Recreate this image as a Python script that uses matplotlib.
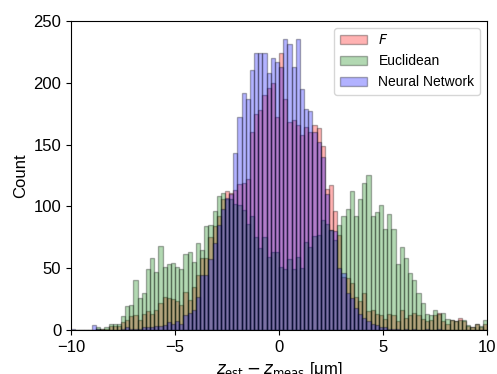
import numpy as np
import matplotlib.pyplot as plt

plt.rcParams['font.family'] = ['Liberation Sans', 'DejaVu Sans']

# 100 bins of width 0.2 between -10 and 10
bin_edges = np.linspace(-10, 10, 101)

f_counts = [0, 0, 0, 0, 0, 0, 1, 1, 1, 3,
            3, 3, 6, 8, 11, 12, 8, 13, 15, 13,
            16, 22, 27, 26, 25, 23, 20, 31, 24, 35,
            44, 58, 58, 75, 84, 92, 106, 112, 111, 113,
            118, 119, 122, 160, 175, 178, 190, 196, 200, 172,
            224, 187, 168, 170, 166, 158, 164, 160, 166, 163,
            149, 114, 117, 96, 77, 43, 42, 38, 27, 23,
            30, 15, 16, 13, 12, 9, 13, 12, 7, 16,
            10, 12, 14, 12, 9, 7, 8, 12, 14, 7,
            5, 8, 7, 10, 7, 3, 2, 5, 2, 5]

euclid_counts = [0, 0, 0, 0, 0, 0, 2, 1, 2, 5,
                 5, 5, 11, 19, 20, 40, 26, 30, 49, 58,
                 47, 68, 51, 53, 54, 51, 49, 61, 63, 55,
                 70, 65, 84, 85, 96, 108, 111, 106, 106, 102,
                 101, 97, 86, 92, 75, 66, 75, 59, 63, 63,
                 51, 49, 57, 49, 59, 50, 71, 67, 76, 77,
                 89, 86, 81, 73, 85, 92, 98, 112, 92, 106,
                 119, 125, 92, 95, 101, 82, 94, 82, 53, 67,
                 58, 46, 40, 30, 22, 13, 12, 16, 13, 14,
                 9, 8, 7, 8, 8, 4, 2, 5, 3, 8]

nn_counts = [1, 0, 0, 0, 0, 4, 1, 0, 0, 0,
             0, 0, 1, 2, 1, 1, 1, 2, 2, 2,
             3, 3, 4, 6, 5, 7, 5, 12, 14, 16,
             27, 44, 44, 57, 70, 85, 98, 107, 110, 143,
             172, 192, 187, 210, 224, 224, 224, 208, 220, 217,
             213, 235, 231, 213, 235, 195, 179, 177, 160, 152,
             140, 110, 81, 80, 50, 46, 30, 26, 18, 13,
             10, 7, 5, 4, 2, 2, 1, 1, 1, 0,
             1, 0, 1, 0, 0, 1, 0, 0, 1, 0,
             0, 0, 0, 0, 0, 0, 0, 0, 0, 0]

centers = (bin_edges[:-1] + bin_edges[1:]) / 2

fig = plt.figure(figsize=(4.97, 3.74), dpi=100)
ax = fig.add_axes([0.143, 0.118, 0.837, 0.826])

ax.hist(centers, bins=bin_edges, weights=f_counts, color='r', alpha=0.3,
        edgecolor='k', linewidth=1, label='$F$')
ax.hist(centers, bins=bin_edges, weights=euclid_counts, color='g', alpha=0.3,
        edgecolor='k', linewidth=1, label='Euclidean')
ax.hist(centers, bins=bin_edges, weights=nn_counts, color='b', alpha=0.3,
        edgecolor='k', linewidth=1, label='Neural Network')

ax.set_xlim(-10, 10)
ax.set_ylim(0, 250)
ax.set_xticks([-10, -5, 0, 5, 10])
ax.tick_params(labelsize=12)
ax.set_ylabel('Count', fontsize=12)
ax.set_xlabel(r'$z_{\mathrm{est}} - z_{\mathrm{meas}}$ [μm]', fontsize=12)
ax.legend(loc='upper right', fontsize=10)

fig.savefig('out.png', dpi=100)
